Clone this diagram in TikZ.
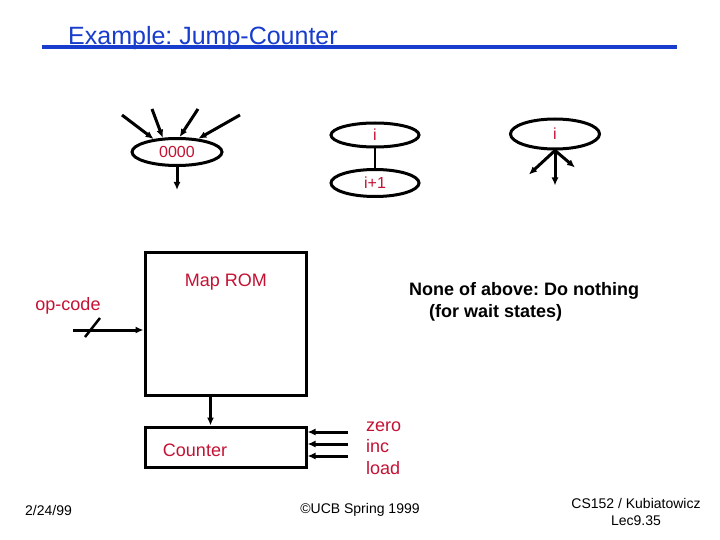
\documentclass[tikz,border=0pt]{standalone}
\usepackage{fontspec}
\setmainfont{Liberation Sans}
\usetikzlibrary{shapes.geometric,arrows.meta}
\definecolor{ucb_red}{RGB}{196,18,52}
\definecolor{ucb_blue}{RGB}{24,60,204}
\frenchspacing

\begin{document}
\begin{tikzpicture}[
  x=1pt,y=-1pt,
  lbl/.style={inner sep=0pt,text=ucb_red,font=\fontsize{18}{21.5}\selectfont},
  oval/.style={ellipse,draw,line width=3pt,inner sep=0pt,
               text=ucb_red,font=\fontsize{16}{19}\selectfont},
  blk/.style={draw,line width=3pt,inner sep=0pt},
  arrow/.style={-{Latex[length=8pt,width=7pt]},line width=3pt},
  foot/.style={inner sep=0pt,font=\fontsize{14}{17}\selectfont}
]
\useasboundingbox[fill=white] (0,0) rectangle (720,540);

% title
\node[inner sep=0pt,anchor=west,text=ucb_blue,font=\fontsize{25}{30}\selectfont] (title) at (68,38)
  {Example: Jump-Counter};
\coordinate (ul1) at (42,47.5);
\coordinate (ul2) at (677,47.5);
\draw[ucb_blue,line width=4pt] (ul1) -- (ul2);

% jump targets
\node[oval,minimum width=90pt,minimum height=27pt] (zero) at (177,152) {0000};
\node[oval,minimum width=88pt,minimum height=24pt] (ia) at (375,135) {i};
\node[oval,minimum width=88pt,minimum height=27pt] (ib) at (375,183) {i+1};
\node[oval,minimum width=89pt,minimum height=30pt] (ic) at (555,134) {i};

\coordinate (z1) at (122,115);
\coordinate (z2) at (152,109);
\coordinate (z3) at (198,109);
\coordinate (z4) at (240,115);
\draw[arrow] (z1) -- (zero.151);
\draw[arrow] (z2) -- (zero.135);
\draw[arrow] (z3) -- (zero.80);
\draw[arrow] (z4) -- (zero.32);
\draw[arrow] (zero.south) -- ++(0,23);

\draw[line width=2.5pt] (ia) -- (ib);

\draw[arrow] (ic.south) -- ++(-26,24);
\draw[arrow] (ic.south) -- ++(0,35);
\draw[arrow] (ic.south) -- ++(20,17);

% datapath
\node[blk,minimum width=161pt,minimum height=143pt] (rom) at (225.5,323.5) {};
\node[lbl] (romtxt) at (226,282) {Map ROM};
\node[blk,minimum width=161pt,minimum height=40pt] (ctr) at (225.5,447) {};
\node[lbl] (ctrtxt) at (195,450) {Counter};

\node[lbl] (optxt) at (68,306) {op-code};
\coordinate (op) at (73,330);
\draw[arrow] (op) -- (op -| rom.west);
\draw[line width=2.5pt] (85,337) -- (100,318);

\draw[arrow] ([xshift=-15pt]rom.south) -- ([xshift=-15pt]ctr.north);

\foreach \y [count=\i] in {432,444,456} {
  \coordinate (s\i) at (348,\y);
  \draw[arrow] (s\i) -- (s\i -| ctr.east);
}
\node[lbl,anchor=west,align=left] (ctl) at (366,448) {zero\\inc\\load};

\node[inner sep=0pt,anchor=west,align=left,font=\bfseries\fontsize{18}{22}\selectfont] (none) at (409,302)
  {None of above: Do nothing\\\hspace*{20pt}(for wait states)};

% footer
\node[foot,anchor=west] (date) at (25,510) {2/24/99};
\node[foot] (copy) at (360,510) {\textcopyright UCB Spring 1999};
\node[foot,align=center] (lec) at (636,512) {CS152 / Kubiatowicz\\Lec9.35};
\end{tikzpicture}
\end{document}
